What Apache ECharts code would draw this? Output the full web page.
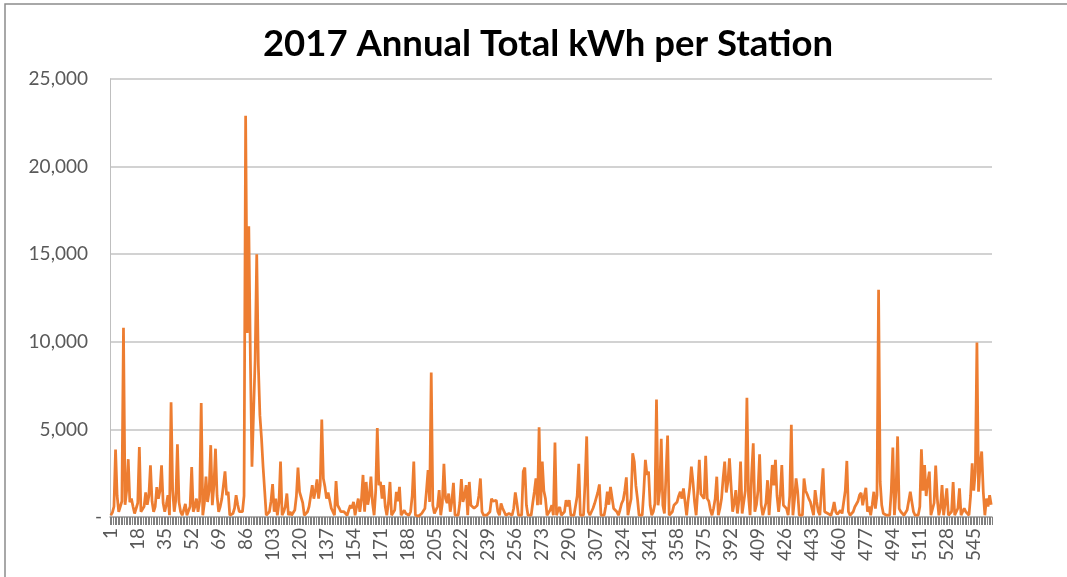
<!DOCTYPE html>
<html>
<head>
<meta charset="utf-8">
<script src="https://cdn.jsdelivr.net/npm/echarts@6/dist/echarts.min.js"></script>
<style>
html,body{margin:0;padding:0;background:#fff;}
#chart{width:1067px;height:577px;}
</style>
</head>
<body>
<div id="chart"></div>
<script>
const titleText = '2017 Annual Total kWh per Station';
const yTicks = [0, 5000, 10000, 15000, 20000, 25000];
// Annual kWh per station (stations 1..556)
const kwh1 = [
100,250,600,3850,1200,300,400,900,10800,700,
1500,3300,850,1050,600,200,100,800,4000,300,
200,600,1400,700,1200,2950,900,300,600,1700,
1050,1500,2950,800,300,700,1250,100,6550,1500,
300,1000,4150,850,300,100,400,750,100,200,
600,2850,300,600,1050,300,900,6500,100,800,
2300,860,1500,4100,670,1800,3900,1200,300,600,
1050,1800,2600,1250,1440,100,150,200,500,1250,
700,300,200,300,1200,22900,10500,16600,9000,2870,
6000,9000,15000,8700,5800,4500,2870,1500,100,100
];
const kwh2 = [
300,900,1880,300,1050,100,800,3160,100,300,
600,1340,100,300,100,100,400,1200,2820,1440,
1530,800,100,200,300,600,1200,1820,1050,1500,
2150,1050,1800,5560,2200,1720,1050,1400,960,500,
300,100,2050,670,500,300,200,300,200,100,
400,670,500,860,100,600,1050,300,1000,2400,
300,2000,700,1200,2300,800,100,1500,5080,1820,
2000,1050,1820,600,100,800,2000,100,50,400,
1440,900,1720,100,200,380,200,100,100,300,
1200,3160,100,50,50,100,200,300,480,1500
];
const kwh3 = [
2680,860,8240,670,200,100,600,1530,100,800,
3030,1050,800,1340,300,900,1950,100,100,100,
800,2160,860,1200,1820,100,2000,670,600,500,
550,660,1200,2200,300,100,100,100,100,300,
1050,900,860,960,300,100,770,500,480,100,
100,200,100,100,500,1400,800,100,100,100,
2590,2820,670,100,100,100,800,1440,2200,670,
5120,700,3160,1500,1050,100,100,400,670,100,
4250,100,400,570,100,100,300,960,600,960,
100,100,100,100,1200,3030,100,100,100,2000
];
const kwh4 = [
4600,300,100,200,500,770,860,1400,1860,100,
100,100,600,1440,700,1720,1630,480,550,300,
100,400,770,960,1500,2260,100,600,1050,3640,
3160,1800,1050,100,100,100,1500,3260,2400,2590,
670,100,300,770,6700,670,1500,4460,670,200,
100,4650,100,200,300,670,700,860,1200,1440,
1050,1630,1600,100,1000,1720,2870,2000,860,100,
1500,3260,1300,1250,1050,3500,1050,900,400,100,
500,1050,2300,100,500,1050,2200,3160,1400,2000,
3350,1820,300,800,1530,200,1000,3160,200,100
];
const kwh5 = [
1500,6800,1200,100,2500,4210,300,700,1500,3580,
700,100,100,800,2100,100,1500,2970,1800,3260,
1200,300,1200,2970,670,700,480,100,1200,5270,
100,1000,2200,1440,100,100,100,2200,1500,1300,
1050,860,860,100,1530,860,300,100,1500,2780,
300,200,200,100,100,400,860,300,150,200,
380,200,100,1500,3200,300,100,100,300,570,
570,900,1250,1380,670,1200,1670,300,600,100,
700,1440,480,1250,12970,2000,670,200,100,100,
100,100,1500,3970,100,1500,4600,480,300,300
];
const kwh6 = [
100,100,400,480,1440,860,300,100,100,100,
600,3870,1500,2970,1200,2000,2590,100,100,800,
2930,1050,100,500,1820,100,800,1630,100,200,
300,2000,100,200,500,1630,100,200,500,300,
300,100,1200,3070,1500,2590,9960,1440,3000,3740,
1440,100,1050,600,1250,700
];
const values = [].concat(kwh1, kwh2, kwh3, kwh4, kwh5, kwh6);
const stations = values.map((v, i) => String(i + 1));

const chart = echarts.init(document.getElementById('chart'));
const font = 'Lato, "Open Sans", sans-serif';
chart.setOption({
  animation: false,
  backgroundColor: '#fff',
  title: {
    text: titleText,
    left: 543,
    textAlign: 'center',
    top: 21,
    textStyle: { fontFamily: font, fontWeight: 'bold', fontSize: 36.5, color: '#000' }
  },
  grid: { left: 110, right: 75, top: 79, bottom: 60, containLabel: false },
  xAxis: {
    type: 'category',
    data: stations,
    boundaryGap: true,
    axisLine: { show: true, lineStyle: { color: '#a6a6a6', width: 1.5 } },
    axisTick: { show: true, interval: 0, length: 8, lineStyle: { color: '#7f7f7f', width: 1 } },
    axisLabel: {
      interval: 16, rotate: 90, margin: 11,
      fontFamily: font, fontSize: 19, color: '#595959'
    },
    splitLine: { show: false }
  },
  yAxis: {
    type: 'value',
    min: yTicks[0], max: yTicks[yTicks.length - 1], interval: 5000,
    axisLine: { show: true, lineStyle: { color: '#bfbfbf', width: 1 } },
    axisTick: { show: false },
    splitLine: { show: true, lineStyle: { color: '#c3c3c3', width: 1.5 } },
    axisLabel: {
      margin: 8,
      fontFamily: font, fontSize: 19, color: '#595959',
      formatter: function (v) {
        if (v === 0) return '{z|-}';
        return '{n|' + v.toLocaleString('en-US') + '}';
      },
      rich: {
        n: { fontFamily: font, fontSize: 19, color: '#595959', padding: [0, 14, 0, 0] },
        z: { fontFamily: font, fontSize: 19, color: '#595959', padding: [0, 0, 0, 0] }
      }
    }
  },
  series: [{
    type: 'line',
    data: values,
    showSymbol: false,
    symbol: 'none',
    lineStyle: { color: '#ED7D31', width: 2.75 },
    itemStyle: { color: '#ED7D31' }
  }],
  graphic: [{
    type: 'rect',
    shape: { x: 5, y: 4, width: 1100, height: 620 },
    style: { fill: 'none', stroke: '#8c8c8c', lineWidth: 1.5 },
    silent: true
  }]
});
</script>
</body>
</html>
